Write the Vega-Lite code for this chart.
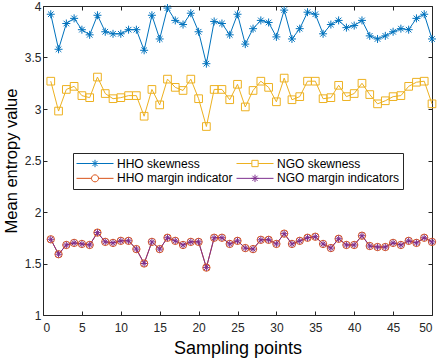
{
  "$schema": "https://vega.github.io/schema/vega-lite/v6.json",
  "width": 389,
  "height": 309,
  "autosize": {"type": "none"},
  "padding": {"left": 43, "top": 6, "right": 6, "bottom": 45},
  "background": "white",
  "config": {
    "view": {"stroke": "#262626", "strokeWidth": 1},
    "axis": {
      "grid": false,
      "domain": false,
      "labelFont": "Liberation Sans",
      "labelFontSize": 12,
      "labelColor": "#262626",
      "titleFont": "Liberation Sans",
      "titleFontSize": 17,
      "titleFontWeight": "normal",
      "titleColor": "#000000",
      "tickColor": "#262626",
      "tickSize": -4
    }
  },
  "datasets": {
    "d": [
      {"x":1,"y":3.92,"s":"HHO skewness"},{"x":2,"y":3.58,"s":"HHO skewness"},{"x":3,"y":3.83,"s":"HHO skewness"},{"x":4,"y":3.88,"s":"HHO skewness"},{"x":5,"y":3.77,"s":"HHO skewness"},
      {"x":6,"y":3.72,"s":"HHO skewness"},{"x":7,"y":3.91,"s":"HHO skewness"},{"x":8,"y":3.75,"s":"HHO skewness"},{"x":9,"y":3.73,"s":"HHO skewness"},{"x":10,"y":3.73,"s":"HHO skewness"},
      {"x":11,"y":3.77,"s":"HHO skewness"},{"x":12,"y":3.77,"s":"HHO skewness"},{"x":13,"y":3.57,"s":"HHO skewness"},{"x":14,"y":3.91,"s":"HHO skewness"},{"x":15,"y":3.68,"s":"HHO skewness"},
      {"x":16,"y":3.98,"s":"HHO skewness"},{"x":17,"y":3.86,"s":"HHO skewness"},{"x":18,"y":3.82,"s":"HHO skewness"},{"x":19,"y":3.93,"s":"HHO skewness"},{"x":20,"y":3.75,"s":"HHO skewness"},
      {"x":21,"y":3.44,"s":"HHO skewness"},{"x":22,"y":3.85,"s":"HHO skewness"},{"x":23,"y":3.83,"s":"HHO skewness"},{"x":24,"y":3.72,"s":"HHO skewness"},{"x":25,"y":3.92,"s":"HHO skewness"},
      {"x":26,"y":3.63,"s":"HHO skewness"},{"x":27,"y":3.78,"s":"HHO skewness"},{"x":28,"y":3.86,"s":"HHO skewness"},{"x":29,"y":3.84,"s":"HHO skewness"},{"x":30,"y":3.70,"s":"HHO skewness"},
      {"x":31,"y":3.96,"s":"HHO skewness"},{"x":32,"y":3.68,"s":"HHO skewness"},{"x":33,"y":3.78,"s":"HHO skewness"},{"x":34,"y":3.94,"s":"HHO skewness"},{"x":35,"y":3.92,"s":"HHO skewness"},
      {"x":36,"y":3.73,"s":"HHO skewness"},{"x":37,"y":3.82,"s":"HHO skewness"},{"x":38,"y":3.86,"s":"HHO skewness"},{"x":39,"y":3.79,"s":"HHO skewness"},{"x":40,"y":3.81,"s":"HHO skewness"},
      {"x":41,"y":3.86,"s":"HHO skewness"},{"x":42,"y":3.71,"s":"HHO skewness"},{"x":43,"y":3.68,"s":"HHO skewness"},{"x":44,"y":3.71,"s":"HHO skewness"},{"x":45,"y":3.75,"s":"HHO skewness"},
      {"x":46,"y":3.78,"s":"HHO skewness"},{"x":47,"y":3.77,"s":"HHO skewness"},{"x":48,"y":3.88,"s":"HHO skewness"},{"x":49,"y":3.92,"s":"HHO skewness"},{"x":50,"y":3.68,"s":"HHO skewness"},

      {"x":1,"y":3.27,"s":"NGO skewness"},{"x":2,"y":2.98,"s":"NGO skewness"},{"x":3,"y":3.19,"s":"NGO skewness"},{"x":4,"y":3.22,"s":"NGO skewness"},{"x":5,"y":3.13,"s":"NGO skewness"},
      {"x":6,"y":3.11,"s":"NGO skewness"},{"x":7,"y":3.31,"s":"NGO skewness"},{"x":8,"y":3.15,"s":"NGO skewness"},{"x":9,"y":3.10,"s":"NGO skewness"},{"x":10,"y":3.11,"s":"NGO skewness"},
      {"x":11,"y":3.13,"s":"NGO skewness"},{"x":12,"y":3.13,"s":"NGO skewness"},{"x":13,"y":2.93,"s":"NGO skewness"},{"x":14,"y":3.19,"s":"NGO skewness"},{"x":15,"y":3.04,"s":"NGO skewness"},
      {"x":16,"y":3.29,"s":"NGO skewness"},{"x":17,"y":3.21,"s":"NGO skewness"},{"x":18,"y":3.18,"s":"NGO skewness"},{"x":19,"y":3.29,"s":"NGO skewness"},{"x":20,"y":3.10,"s":"NGO skewness"},
      {"x":21,"y":2.83,"s":"NGO skewness"},{"x":22,"y":3.19,"s":"NGO skewness"},{"x":23,"y":3.19,"s":"NGO skewness"},{"x":24,"y":3.09,"s":"NGO skewness"},{"x":25,"y":3.24,"s":"NGO skewness"},
      {"x":26,"y":3.02,"s":"NGO skewness"},{"x":27,"y":3.18,"s":"NGO skewness"},{"x":28,"y":3.27,"s":"NGO skewness"},{"x":29,"y":3.21,"s":"NGO skewness"},{"x":30,"y":3.07,"s":"NGO skewness"},
      {"x":31,"y":3.30,"s":"NGO skewness"},{"x":32,"y":3.09,"s":"NGO skewness"},{"x":33,"y":3.12,"s":"NGO skewness"},{"x":34,"y":3.27,"s":"NGO skewness"},{"x":35,"y":3.27,"s":"NGO skewness"},
      {"x":36,"y":3.10,"s":"NGO skewness"},{"x":37,"y":3.11,"s":"NGO skewness"},{"x":38,"y":3.23,"s":"NGO skewness"},{"x":39,"y":3.12,"s":"NGO skewness"},{"x":40,"y":3.15,"s":"NGO skewness"},
      {"x":41,"y":3.25,"s":"NGO skewness"},{"x":42,"y":3.14,"s":"NGO skewness"},{"x":43,"y":3.05,"s":"NGO skewness"},{"x":44,"y":3.08,"s":"NGO skewness"},{"x":45,"y":3.12,"s":"NGO skewness"},
      {"x":46,"y":3.13,"s":"NGO skewness"},{"x":47,"y":3.22,"s":"NGO skewness"},{"x":48,"y":3.26,"s":"NGO skewness"},{"x":49,"y":3.27,"s":"NGO skewness"},{"x":50,"y":3.05,"s":"NGO skewness"},

      {"x":1,"y":1.735,"s":"HHO margin indicator"},{"x":2,"y":1.59,"s":"HHO margin indicator"},{"x":3,"y":1.68,"s":"HHO margin indicator"},{"x":4,"y":1.70,"s":"HHO margin indicator"},{"x":5,"y":1.69,"s":"HHO margin indicator"},
      {"x":6,"y":1.68,"s":"HHO margin indicator"},{"x":7,"y":1.80,"s":"HHO margin indicator"},{"x":8,"y":1.71,"s":"HHO margin indicator"},{"x":9,"y":1.70,"s":"HHO margin indicator"},{"x":10,"y":1.72,"s":"HHO margin indicator"},
      {"x":11,"y":1.72,"s":"HHO margin indicator"},{"x":12,"y":1.64,"s":"HHO margin indicator"},{"x":13,"y":1.50,"s":"HHO margin indicator"},{"x":14,"y":1.71,"s":"HHO margin indicator"},{"x":15,"y":1.64,"s":"HHO margin indicator"},
      {"x":16,"y":1.75,"s":"HHO margin indicator"},{"x":17,"y":1.72,"s":"HHO margin indicator"},{"x":18,"y":1.68,"s":"HHO margin indicator"},{"x":19,"y":1.71,"s":"HHO margin indicator"},{"x":20,"y":1.71,"s":"HHO margin indicator"},
      {"x":21,"y":1.46,"s":"HHO margin indicator"},{"x":22,"y":1.75,"s":"HHO margin indicator"},{"x":23,"y":1.75,"s":"HHO margin indicator"},{"x":24,"y":1.69,"s":"HHO margin indicator"},{"x":25,"y":1.72,"s":"HHO margin indicator"},
      {"x":26,"y":1.65,"s":"HHO margin indicator"},{"x":27,"y":1.64,"s":"HHO margin indicator"},{"x":28,"y":1.73,"s":"HHO margin indicator"},{"x":29,"y":1.73,"s":"HHO margin indicator"},{"x":30,"y":1.69,"s":"HHO margin indicator"},
      {"x":31,"y":1.79,"s":"HHO margin indicator"},{"x":32,"y":1.69,"s":"HHO margin indicator"},{"x":33,"y":1.72,"s":"HHO margin indicator"},{"x":34,"y":1.75,"s":"HHO margin indicator"},{"x":35,"y":1.76,"s":"HHO margin indicator"},
      {"x":36,"y":1.69,"s":"HHO margin indicator"},{"x":37,"y":1.65,"s":"HHO margin indicator"},{"x":38,"y":1.74,"s":"HHO margin indicator"},{"x":39,"y":1.68,"s":"HHO margin indicator"},{"x":40,"y":1.68,"s":"HHO margin indicator"},
      {"x":41,"y":1.77,"s":"HHO margin indicator"},{"x":42,"y":1.67,"s":"HHO margin indicator"},{"x":43,"y":1.66,"s":"HHO margin indicator"},{"x":44,"y":1.66,"s":"HHO margin indicator"},{"x":45,"y":1.70,"s":"HHO margin indicator"},
      {"x":46,"y":1.68,"s":"HHO margin indicator"},{"x":47,"y":1.72,"s":"HHO margin indicator"},{"x":48,"y":1.70,"s":"HHO margin indicator"},{"x":49,"y":1.75,"s":"HHO margin indicator"},{"x":50,"y":1.71,"s":"HHO margin indicator"},

      {"x":1,"y":1.735,"s":"NGO margin indicators"},{"x":2,"y":1.59,"s":"NGO margin indicators"},{"x":3,"y":1.68,"s":"NGO margin indicators"},{"x":4,"y":1.70,"s":"NGO margin indicators"},{"x":5,"y":1.69,"s":"NGO margin indicators"},
      {"x":6,"y":1.68,"s":"NGO margin indicators"},{"x":7,"y":1.80,"s":"NGO margin indicators"},{"x":8,"y":1.71,"s":"NGO margin indicators"},{"x":9,"y":1.70,"s":"NGO margin indicators"},{"x":10,"y":1.72,"s":"NGO margin indicators"},
      {"x":11,"y":1.72,"s":"NGO margin indicators"},{"x":12,"y":1.64,"s":"NGO margin indicators"},{"x":13,"y":1.50,"s":"NGO margin indicators"},{"x":14,"y":1.71,"s":"NGO margin indicators"},{"x":15,"y":1.64,"s":"NGO margin indicators"},
      {"x":16,"y":1.75,"s":"NGO margin indicators"},{"x":17,"y":1.72,"s":"NGO margin indicators"},{"x":18,"y":1.68,"s":"NGO margin indicators"},{"x":19,"y":1.71,"s":"NGO margin indicators"},{"x":20,"y":1.71,"s":"NGO margin indicators"},
      {"x":21,"y":1.46,"s":"NGO margin indicators"},{"x":22,"y":1.75,"s":"NGO margin indicators"},{"x":23,"y":1.75,"s":"NGO margin indicators"},{"x":24,"y":1.69,"s":"NGO margin indicators"},{"x":25,"y":1.72,"s":"NGO margin indicators"},
      {"x":26,"y":1.65,"s":"NGO margin indicators"},{"x":27,"y":1.64,"s":"NGO margin indicators"},{"x":28,"y":1.73,"s":"NGO margin indicators"},{"x":29,"y":1.73,"s":"NGO margin indicators"},{"x":30,"y":1.69,"s":"NGO margin indicators"},
      {"x":31,"y":1.79,"s":"NGO margin indicators"},{"x":32,"y":1.69,"s":"NGO margin indicators"},{"x":33,"y":1.72,"s":"NGO margin indicators"},{"x":34,"y":1.75,"s":"NGO margin indicators"},{"x":35,"y":1.76,"s":"NGO margin indicators"},
      {"x":36,"y":1.69,"s":"NGO margin indicators"},{"x":37,"y":1.65,"s":"NGO margin indicators"},{"x":38,"y":1.74,"s":"NGO margin indicators"},{"x":39,"y":1.68,"s":"NGO margin indicators"},{"x":40,"y":1.68,"s":"NGO margin indicators"},
      {"x":41,"y":1.77,"s":"NGO margin indicators"},{"x":42,"y":1.67,"s":"NGO margin indicators"},{"x":43,"y":1.66,"s":"NGO margin indicators"},{"x":44,"y":1.66,"s":"NGO margin indicators"},{"x":45,"y":1.70,"s":"NGO margin indicators"},
      {"x":46,"y":1.68,"s":"NGO margin indicators"},{"x":47,"y":1.72,"s":"NGO margin indicators"},{"x":48,"y":1.70,"s":"NGO margin indicators"},{"x":49,"y":1.75,"s":"NGO margin indicators"},{"x":50,"y":1.71,"s":"NGO margin indicators"}
    ]
  },
  "data": {"name": "d"},
  "resolve": {
    "scale": {"color": "independent", "shape": "independent"},
    "axis": {"x": "independent", "y": "independent"}
  },
  "layer": [
    {
      "mark": {"type": "line", "strokeWidth": 1},
      "encoding": {
        "x": {"field": "x", "type": "quantitative", "scale": {"domain": [0, 50], "nice": false},
              "axis": {"orient": "bottom", "values": [0,5,10,15,20,25,30,35,40,45,50], "title": "Sampling points", "titleFontSize": 18, "labelPadding": 11, "titlePadding": 6}},
        "y": {"field": "y", "type": "quantitative", "scale": {"domain": [1, 4], "nice": false, "zero": false},
              "axis": {"orient": "left", "values": [1,1.5,2,2.5,3,3.5,4], "format": "~g", "title": "Mean entropy value", "titleFontSize": 16.5, "labelPadding": 6, "titlePadding": 5}},
        "color": {"field": "s", "type": "nominal", "legend": null,
                  "scale": {"domain": ["HHO skewness","NGO skewness","HHO margin indicator","NGO margin indicators"],
                            "range": ["#0072BD","#EDB120","#D95319","#7E2F8E"]}},
        "order": {"field": "x", "type": "quantitative"}
      }
    },
    {
      "mark": {"type": "point", "filled": false, "strokeWidth": 1, "opacity": 1},
      "encoding": {
        "x": {"field": "x", "type": "quantitative", "scale": {"domain": [0, 50], "nice": false},
              "axis": {"orient": "top", "values": [0,5,10,15,20,25,30,35,40,45,50], "labels": false, "title": null}},
        "y": {"field": "y", "type": "quantitative", "scale": {"domain": [1, 4], "nice": false, "zero": false},
              "axis": {"orient": "right", "values": [1,1.5,2,2.5,3,3.5,4], "labels": false, "title": null}},
        "color": {"field": "s", "type": "nominal", "legend": null,
                  "scale": {"domain": ["HHO skewness","NGO skewness","HHO margin indicator","NGO margin indicators"],
                            "range": ["#0072BD","#EDB120","#D95319","#7E2F8E"]}},
        "shape": {"field": "s", "type": "nominal", "legend": null,
                  "scale": {"domain": ["HHO skewness","NGO skewness","HHO margin indicator","NGO margin indicators"],
                            "range": ["M-1,0H1M0,-1V1M-0.7,-0.7L0.7,0.7M-0.7,0.7L0.7,-0.7","square","circle","M-1,0H1M0,-1V1M-0.7,-0.7L0.7,0.7M-0.7,0.7L0.7,-0.7"]}},
        "size": {"field": "s", "type": "nominal", "legend": null,
                 "scale": {"domain": ["HHO skewness","NGO skewness","HHO margin indicator","NGO margin indicators"],
                           "range": [64, 49, 45, 49]}}
      }
    },
    {
      "transform": [{"filter": "datum.x < 0"}],
      "mark": {"type": "point", "filled": false, "strokeWidth": 1, "opacity": 1},
      "encoding": {
        "x": {"field": "x", "type": "quantitative", "scale": {"domain": [0, 50], "nice": false}, "axis": null},
        "y": {"field": "y", "type": "quantitative", "scale": {"domain": [1, 4], "nice": false, "zero": false}, "axis": null},
        "color": {"field": "s", "type": "nominal",
                  "scale": {"domain": ["HHO skewness","NGO skewness","HHO margin indicator","NGO margin indicators"],
                            "range": ["#0072BD","#EDB120","#D95319","#7E2F8E"]},
                  "legend": {"orient": "none", "direction": "horizontal", "legendX": 30, "legendY": 147, "columns": 2, "title": null,
                             "strokeColor": "#262626", "fillColor": "#ffffff", "padding": 3,
                             "labelFont": "Liberation Sans", "labelFontSize": 12, "labelColor": "#000000",
                             "symbolSize": 1369, "symbolStrokeWidth": 1, "symbolFillColor": "transparent",
                             "rowPadding": 0, "columnPadding": 3, "labelOffset": 3, "clipHeight": 14.7}},
        "shape": {"field": "s", "type": "nominal",
                  "scale": {"domain": ["HHO skewness","NGO skewness","HHO margin indicator","NGO margin indicators"],
                            "range": ["M-1,0H1M-0.2,0H0.2M0,-0.2V0.2M-0.14,-0.14L0.14,0.14M-0.14,0.14L0.14,-0.14",
                                      "M-1,0H-0.17M0.17,0H1M-0.17,-0.17H0.17V0.17H-0.17Z",
                                      "M-1,0H-0.19M0.19,0H1M-0.19,0A0.19,0.19,0,1,0,0.19,0A0.19,0.19,0,1,0,-0.19,0",
                                      "M-1,0H1M-0.2,0H0.2M0,-0.2V0.2M-0.14,-0.14L0.14,0.14M-0.14,0.14L0.14,-0.14"]},
                  "legend": {"orient": "none", "direction": "horizontal", "legendX": 30, "legendY": 147, "columns": 2, "title": null,
                             "strokeColor": "#262626", "fillColor": "#ffffff", "padding": 3,
                             "labelFont": "Liberation Sans", "labelFontSize": 12, "labelColor": "#000000",
                             "symbolSize": 1369, "symbolStrokeWidth": 1, "symbolFillColor": "transparent",
                             "rowPadding": 0, "columnPadding": 3, "labelOffset": 3, "clipHeight": 14.7}}
      }
    }
  ]
}
